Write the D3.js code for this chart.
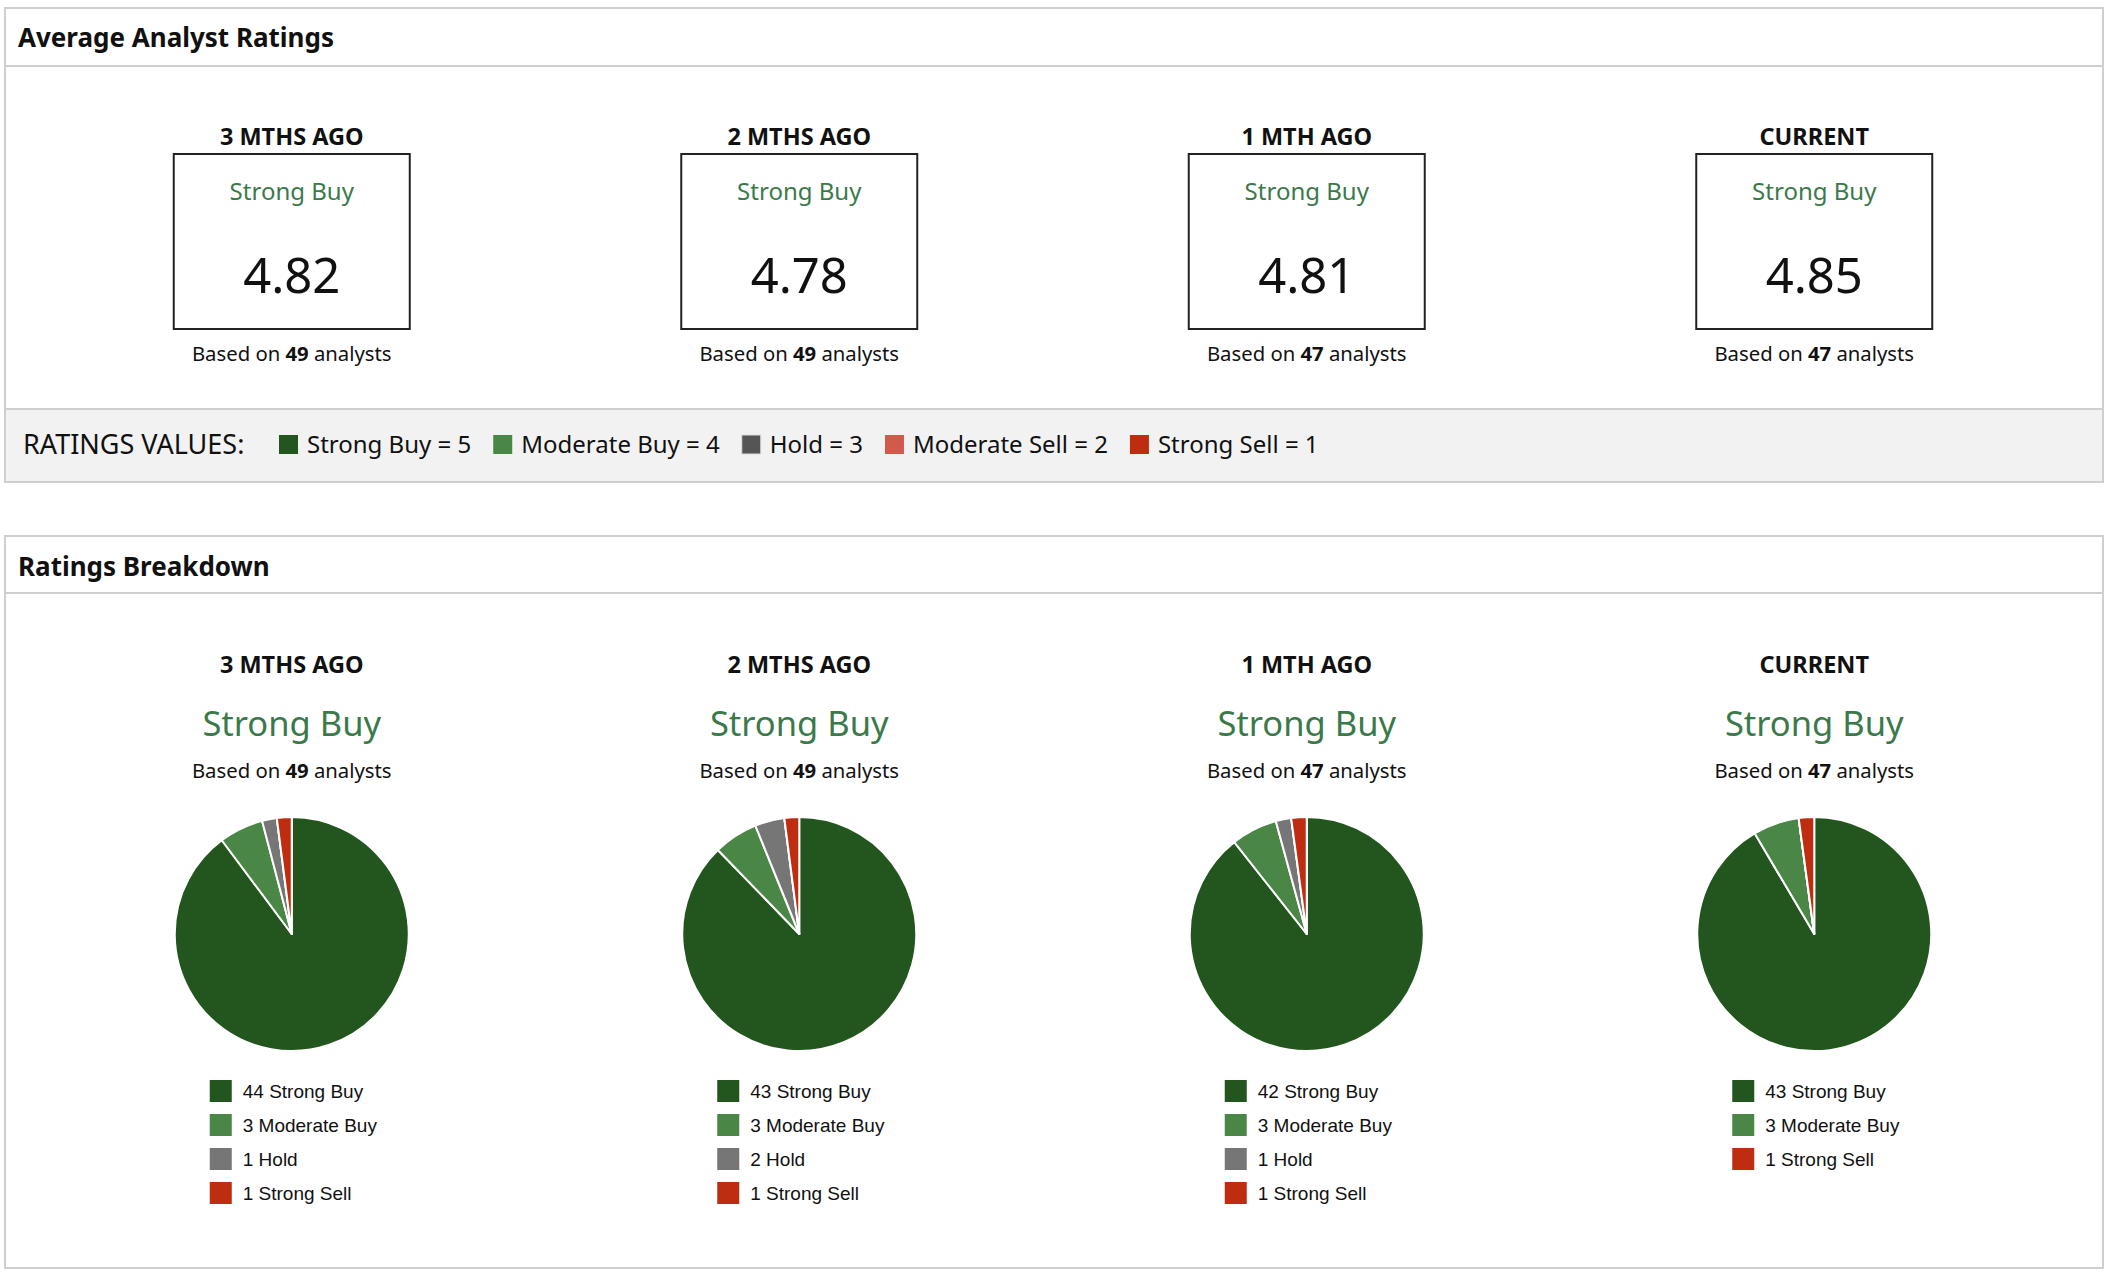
<!DOCTYPE html>
<html lang="en">
<head>
    <meta charset="UTF-8">
    <title>Analyst Ratings</title>
    <script src="https://cdn.jsdelivr.net/npm/d3@7"></script>
    <style>
        body { margin: 0; background: #fff; }
        svg { display: block; }
        .sans { font-family: "Noto Sans", "Open Sans", sans-serif; }
        .arial { font-family: "Liberation Sans", Arial, sans-serif; }
    </style>
</head>
<body>
<div id="chart"></div>
<script>
    const width = 2110;
    const height = 1278;

    const periods = ["3 MTHS AGO", "2 MTHS AGO", "1 MTH AGO", "CURRENT"];
    const consensus = ["Strong Buy", "Strong Buy", "Strong Buy", "Strong Buy"];
    const averages = [4.82, 4.78, 4.81, 4.85];
    const analysts = [49, 49, 47, 47];

    const ratingNames = ["Strong Buy", "Moderate Buy", "Hold", "Moderate Sell", "Strong Sell"];
    const ratingValues = [5, 4, 3, 2, 1];
    const strongBuy = [44, 43, 42, 43];
    const moderateBuy = [3, 3, 3, 3];
    const hold = [1, 2, 1, 0];
    const moderateSell = [0, 0, 0, 0];
    const strongSell = [1, 1, 1, 1];

    const counts = [strongBuy, moderateBuy, hold, moderateSell, strongSell];

    const pieColors = ["#22561e", "#4a8746", "#767676", "#d15a4b", "#be2d10"];
    const keyColors = ["#22561e", "#4a8746", "#555555", "#d15a4b", "#be2d10"];
    const green = "#3a7a4a";
    const lineGray = "#cfcfcf";

    const svg = d3.select("#chart")
        .append("svg")
        .attr("width", width)
        .attr("height", height)
        .attr("viewBox", `0 0 ${width} ${height}`);

    // column centres shared by both panels
    const x = d3.scaleBand()
        .domain(periods)
        .range([38, 2068]);
    const cx = d => x(d) + x.bandwidth() / 2;

    // ---- panel frames
    function panel(y0, y1, headerY, title, titleY) {
        svg.append("rect")
            .attr("x", 5).attr("y", y0)
            .attr("width", 2098).attr("height", y1 - y0)
            .attr("fill", "#fff")
            .attr("stroke", lineGray)
            .attr("stroke-width", 2);
        svg.append("line")
            .attr("x1", 5).attr("x2", 2103)
            .attr("y1", headerY).attr("y2", headerY)
            .attr("stroke", lineGray)
            .attr("stroke-width", 2);
        svg.append("text")
            .attr("class", "sans")
            .attr("x", 18).attr("y", titleY)
            .attr("font-size", 26)
            .attr("font-weight", "bold")
            .attr("fill", "#111")
            .text(title);
    }

    panel(8, 482, 66, "Average Analyst Ratings", 47);
    panel(536, 1268, 593, "Ratings Breakdown", 576);

    // ---- average rating boxes
    const cols = svg.append("g")
        .selectAll("g")
        .data(periods)
        .join("g")
        .attr("transform", d => `translate(${cx(d)},0)`);

    cols.append("text")
        .attr("class", "sans")
        .attr("y", 145)
        .attr("text-anchor", "middle")
        .attr("font-size", 23.5)
        .attr("font-weight", "bold")
        .attr("fill", "#111")
        .text(d => d);

    cols.append("rect")
        .attr("x", -118).attr("y", 154)
        .attr("width", 236).attr("height", 175)
        .attr("fill", "none")
        .attr("stroke", "#222")
        .attr("stroke-width", 2);

    cols.append("text")
        .attr("class", "sans")
        .attr("y", 200)
        .attr("text-anchor", "middle")
        .attr("font-size", 24)
        .attr("fill", green)
        .text((d, i) => consensus[i]);

    cols.append("text")
        .attr("class", "sans")
        .attr("y", 293)
        .attr("text-anchor", "middle")
        .attr("font-size", 49)
        .attr("fill", "#111")
        .text((d, i) => averages[i].toFixed(2));

    function basedOn(sel, y) {
        const t = sel.append("text")
            .attr("class", "sans")
            .attr("y", y)
            .attr("text-anchor", "middle")
            .attr("font-size", 20.3)
            .attr("fill", "#111");
        t.append("tspan").text("Based on ");
        t.append("tspan").attr("font-weight", "bold").text((d, i) => analysts[i]);
        t.append("tspan").text(" analysts");
    }
    basedOn(cols, 361);

    // ---- ratings values band
    svg.append("rect")
        .attr("x", 6).attr("y", 409)
        .attr("width", 2096).attr("height", 72)
        .attr("fill", "#f2f2f2");
    svg.append("line")
        .attr("x1", 5).attr("x2", 2103)
        .attr("y1", 409).attr("y2", 409)
        .attr("stroke", lineGray)
        .attr("stroke-width", 2);

    svg.append("text")
        .attr("class", "sans")
        .attr("x", 23).attr("y", 454)
        .attr("font-size", 27)
        .attr("fill", "#111")
        .text("RATINGS VALUES:");

    const key = svg.append("g");
    let kx = 279;
    ratingNames.forEach((name, i) => {
        key.append("rect")
            .attr("x", kx).attr("y", 435)
            .attr("width", 19).attr("height", 19)
            .attr("fill", keyColors[i])
            .attr("stroke", i === 2 ? "#ddd" : "none");
        const t = key.append("text")
            .attr("class", "sans")
            .attr("x", kx + 28).attr("y", 453)
            .attr("font-size", 24)
            .attr("fill", "#111")
            .text(`${name} = ${ratingValues[i]}`);
        kx += 28 + t.node().getComputedTextLength() + 22;
    });

    // ---- breakdown pies
    const pcols = svg.append("g")
        .selectAll("g")
        .data(periods)
        .join("g")
        .attr("transform", d => `translate(${cx(d)},0)`);

    pcols.append("text")
        .attr("class", "sans")
        .attr("y", 673)
        .attr("text-anchor", "middle")
        .attr("font-size", 23.5)
        .attr("font-weight", "bold")
        .attr("fill", "#111")
        .text(d => d);

    pcols.append("text")
        .attr("class", "sans")
        .attr("y", 736)
        .attr("text-anchor", "middle")
        .attr("font-size", 34.5)
        .attr("fill", green)
        .text((d, i) => consensus[i]);

    basedOn(pcols, 778);

    const pie = d3.pie().sort(null).value(d => d.count);
    const arc = d3.arc().innerRadius(0).outerRadius(117);

    pcols.each(function (d, i) {
        const g = d3.select(this);
        const rows = ratingNames.map((name, k) => ({name, count: counts[k][i], color: pieColors[k]}));

        g.append("g")
            .attr("transform", "translate(0,934)")
            .selectAll("path")
            .data(pie(rows))
            .join("path")
            .attr("d", arc)
            .attr("fill", s => s.data.color)
            .attr("stroke", "#fff")
            .attr("stroke-width", 2)
            .attr("stroke-linejoin", "round");

        const shown = rows.filter(r => r.count > 0);
        const leg = g.append("g").attr("transform", "translate(-82,1080)");
        const item = leg.selectAll("g")
            .data(shown)
            .join("g")
            .attr("transform", (r, k) => `translate(0,${k * 34})`);
        item.append("rect")
            .attr("width", 22).attr("height", 22)
            .attr("fill", r => r.color);
        item.append("text")
            .attr("class", "arial")
            .attr("x", 33).attr("y", 18)
            .attr("font-size", 19)
            .attr("fill", "#111")
            .text(r => `${r.count} ${r.name}`);
    });
</script>
</body>
</html>
